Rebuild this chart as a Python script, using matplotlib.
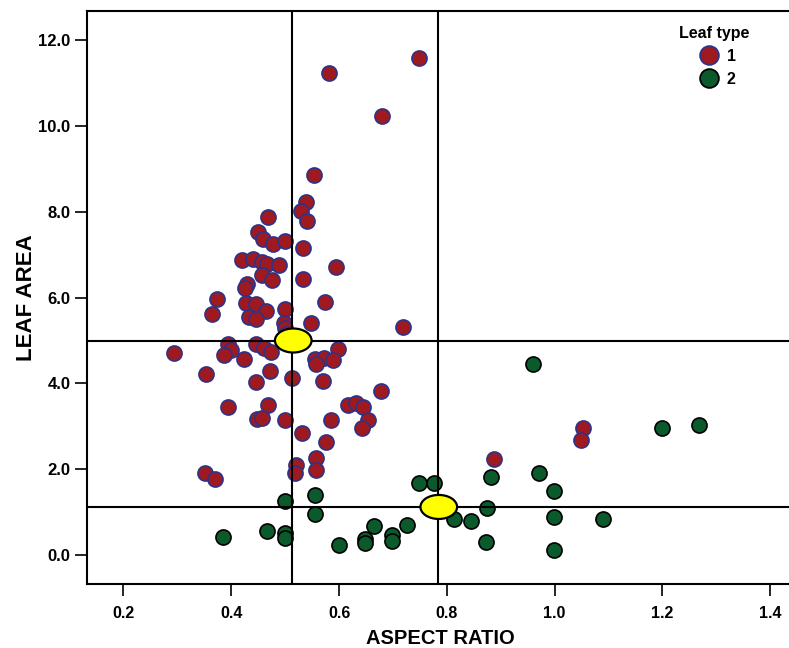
import matplotlib
matplotlib.use("Agg")
import matplotlib.pyplot as plt
from matplotlib.patches import Ellipse
from matplotlib.lines import Line2D

# leaf type 1
red_x = [0.749, 0.581, 0.680, 0.554, 0.539, 0.530, 0.540, 0.469, 0.449, 0.459,
         0.478, 0.499, 0.534, 0.419, 0.440, 0.457, 0.467, 0.489, 0.594, 0.457,
         0.475, 0.534, 0.429, 0.426, 0.374, 0.364, 0.427, 0.445, 0.465, 0.433,
         0.446, 0.499, 0.573, 0.497, 0.500, 0.548, 0.718, 0.393, 0.399, 0.387,
         0.424, 0.445, 0.460, 0.473, 0.354, 0.472, 0.446, 0.513, 0.570, 0.598,
         0.555, 0.572, 0.588, 0.558, 0.677, 0.394, 0.468, 0.448, 0.457, 0.499,
         0.585, 0.616, 0.632, 0.645, 0.654, 0.532, 0.576, 0.642, 0.558, 0.558,
         0.521, 0.519, 0.351, 0.369, 0.887, 1.052, 1.048, 0.293, 0.502, 0.505]
red_y = [11.58, 11.23, 10.23, 8.86, 8.22, 8.01, 7.78, 7.88, 7.52, 7.37,
         7.26, 7.33, 7.15, 6.87, 6.91, 6.84, 6.78, 6.75, 6.71, 6.53,
         6.42, 6.43, 6.31, 6.22, 5.97, 5.62, 5.88, 5.84, 5.68, 5.54,
         5.50, 5.74, 5.90, 5.41, 5.30, 5.41, 5.31, 4.92, 4.78, 4.67,
         4.57, 4.93, 4.83, 4.74, 4.22, 4.30, 4.04, 4.12, 4.06, 4.81,
         4.58, 4.60, 4.54, 4.45, 3.83, 3.45, 3.50, 3.18, 3.20, 3.15,
         3.15, 3.50, 3.55, 3.45, 3.15, 2.85, 2.64, 2.97, 2.26, 1.98,
         2.09, 1.91, 1.92, 1.78, 2.23, 2.95, 2.69, 4.72, 5.15, 5.05]

# leaf type 2
green_x = [0.499, 0.555, 0.555, 0.749, 0.777, 0.881, 0.874, 0.813, 0.845, 0.726,
           0.665, 0.649, 0.649, 0.699, 0.699, 0.600, 0.873, 0.499, 0.499, 0.466,
           0.384, 0.959, 1.199, 1.268, 0.971, 0.998, 0.998, 1.090, 0.998]
green_y = [1.26, 1.41, 0.95, 1.68, 1.68, 1.81, 1.09, 0.85, 0.80, 0.70,
           0.68, 0.37, 0.29, 0.47, 0.33, 0.24, 0.30, 0.51, 0.39, 0.55,
           0.42, 4.46, 2.96, 3.02, 1.92, 1.49, 0.88, 0.85, 0.12]

# group centroids (yellow ellipses) and reference lines
cent_x = [0.515, 0.785]
cent_y = [5.0, 1.12]
line_x = [0.512, 0.784]
line_y = [5.0, 1.12]

xticks = [0.2, 0.4, 0.6, 0.8, 1.0, 1.2, 1.4]
yticks = [0.0, 2.0, 4.0, 6.0, 8.0, 10.0, 12.0]

plt.rcParams["font.family"] = ["Liberation Sans", "DejaVu Sans"]
plt.rcParams["font.weight"] = "bold"

red = "#9E1A20"
red_edge = "#2E3388"
green = "#0B5A2B"

fig = plt.figure(figsize=(7.89, 6.48), dpi=100)
ax = fig.add_axes([0.1106, 0.0983, 0.895, 0.884])

ax.scatter(red_x, red_y, s=118, c=red, edgecolors=red_edge, linewidths=1.2, zorder=2)
ax.scatter(green_x, green_y, s=118, c=green, edgecolors="black", linewidths=1.2, zorder=2)

for lx in line_x:
    ax.axvline(lx, color="black", lw=1.5, zorder=3)
for ly in line_y:
    ax.axhline(ly, color="black", lw=1.5, zorder=3)
for cx, cy in zip(cent_x, cent_y):
    ax.add_patch(Ellipse((cx, cy), 0.068, 0.56, facecolor="#FFFF00",
                         edgecolor="black", lw=1.6, zorder=4))

ax.set_xlim(0.1328, 1.443)
ax.set_ylim(-0.683, 12.67)
ax.set_xticks(xticks, [f"{t:.1f}" for t in xticks])
ax.set_yticks(yticks, [f"{t:.1f}" for t in yticks])
ax.tick_params(axis="both", direction="out", length=8.5, width=1.2)
ax.tick_params(axis="x", pad=7, labelsize=11.5)
ax.tick_params(axis="y", labelsize=12)
for s in ["left", "bottom", "top"]:
    ax.spines[s].set_linewidth(1.5)
ax.spines["right"].set_visible(False)

ax.set_xlabel("ASPECT RATIO", fontsize=14.5, fontweight="bold", labelpad=6)
ax.set_ylabel("LEAF AREA", fontsize=16, fontweight="bold", labelpad=1)

handles = [
    Line2D([], [], ls="", marker="o", ms=13.5, mfc=red, mec=red_edge, mew=1.3),
    Line2D([], [], ls="", marker="o", ms=13.5, mfc=green, mec="black", mew=1.3),
]
leg = ax.legend(handles, ["1", "2"], title="Leaf type", loc="upper center",
                bbox_to_anchor=(0.888, 0.997), frameon=False, fontsize=11.5,
                handletextpad=0.15, labelspacing=0.5, borderpad=0.3)
leg.get_title().set_fontweight("bold")
leg.get_title().set_fontsize(11.5)

fig.savefig("out.png", dpi=100)
